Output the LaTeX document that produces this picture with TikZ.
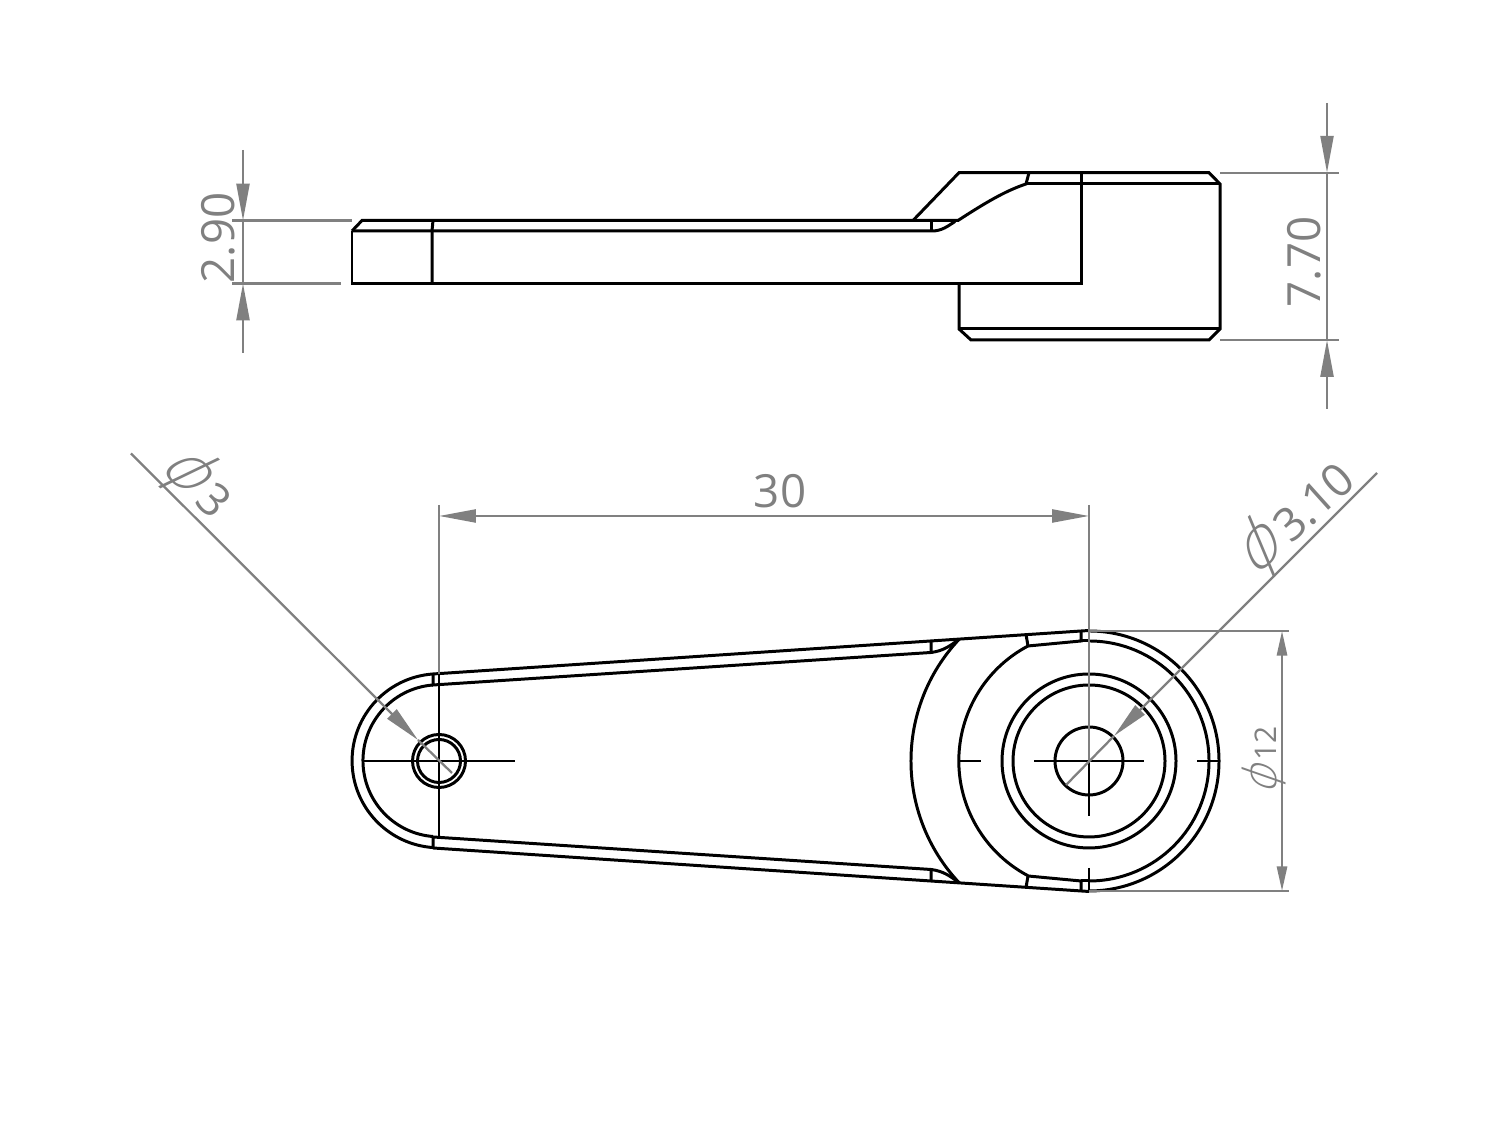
\documentclass[tikz,border=0pt]{standalone}
\usepackage{fontspec}
\usepackage{tikz}
\usetikzlibrary{arrows.meta}
\setmainfont{Open Sans}
\newfontfamily\phifont[FakeSlant=0.35]{DejaVu Sans ExtraLight}
\definecolor{dim_gray}{RGB}{128,128,128}
\newcommand{\phisign}[1]{{\phifont\fontsize{#1}{#1}\selectfont ϕ}}

\begin{document}
\begin{tikzpicture}[x=0.1mm,y=0.1mm,line join=miter]
    \tikzstyle{part}=[black, line width=0.85pt]
    \tikzstyle{axis}=[black, line width=0.62pt]
    \tikzstyle{dim}=[dim_gray, line width=0.65pt]
    \tikzstyle{bigtip}=[-{Triangle[length=10.5pt,width=3.7pt]}]
    \tikzstyle{smalltip}=[{Triangle[length=7pt,width=2.9pt]}-{Triangle[length=7pt,width=2.9pt]}]
    \tikzstyle{dimtext}=[text=dim_gray, inner sep=0pt, font=\fontsize{13}{13}\selectfont]

    \useasboundingbox (0,0) rectangle (1500,1146);

    % side view
    \draw[part] (352,915) -- (362,925.5) -- (958,925.5) .. controls (985,943) and (1005,955) .. (1026,962) -- (1029,973.3);
    \draw[part] (352,915) -- (352,862.5) -- (1081,862.5) -- (1081,973.3);
    \draw[part] (913,925.5) -- (959,973.3) -- (1209,973.3) -- (1220,962) -- (1220,817) -- (1209,806) -- (971,806) -- (959,817) -- (959,862.5);
    \draw[part] (959,817) -- (1220,817);
    \draw[part] (1026,962) -- (1220,962);
    \draw[part] (352,915) -- (932,915) .. controls (942,915) and (948,920) .. (955,924.5);
    \draw[part] (432,862.5) -- (432,915) -- (433,925.5);
    \draw[part] (931,915) -- (931,925.5);

    % front view
    \coordinate (lug) at (439,385);
    \coordinate (hub) at (1089,385);
    \begin{scope}[shift={(0,385)}]
    \foreach \sgn in {1,-1} {
      \draw[part] (433,\sgn*87) -- (1089,\sgn*130.5);
      \draw[part] (433,\sgn*87) -- (433,\sgn*76) -- (931,\sgn*108.5) -- (931,\sgn*120);
      \draw[part] (931,\sgn*108.5) .. controls (943,\sgn*110) and (950,\sgn*115) .. (958,\sgn*121);
      \draw[part] (1081,\sgn*130) -- (1081,\sgn*120) -- (1028,\sgn*115) -- (1026,\sgn*126.5);
      \draw[part] (1081,\sgn*120) -- (1089,\sgn*120);
    }
    \draw[part] (433,87) arc[start angle=94,end angle=266,radius=87];
    \draw[part] (433,76) arc[start angle=94.5,end angle=265.5,radius=76];
    \draw[part] (959,121.6) arc[start angle=136.9,end angle=223.1,radius=178];
    \draw[part] (1028,115) arc[start angle=117.9,end angle=242.1,radius=130];
    \draw[part] (1089,130) arc[start angle=90,end angle=-90,radius=130];
    \draw[part] (1089,120) arc[start angle=90,end angle=-90,radius=120];
    \end{scope}
    \draw[part] (hub) circle (87);
    \draw[part] (hub) circle (76);
    \draw[part] (hub) circle (34);
    \draw[part] (lug) circle (26.5);
    \draw[part] (lug) circle (21.5);

    % centre lines
    \draw[axis] (362,385) -- (515,385);
    \draw[axis] (439,472) -- (439,309);
    \draw[axis] (959,385) -- (981,385);
    \draw[axis] (1034,385) -- (1144,385);
    \draw[axis] (1197,385) -- (1219,385);
    \draw[axis] (1089,395) -- (1089,330);
    \draw[axis] (1089,278) -- (1089,255);

    % dimensions, side view
    \draw[dim] (232,925.5) -- (352,925.5);
    \draw[dim] (232,862.5) -- (341,862.5);
    \draw[dim,bigtip] (243,996) -- (243,925.5);
    \draw[dim,bigtip] (243,793) -- (243,862.5);
    \draw[dim] (243,925.5) -- (243,862.5);
    \node[dimtext, rotate=90] (d_arm) at (218,908) {2.90};

    \draw[dim] (1220,973.3) -- (1339,973.3);
    \draw[dim] (1220,806) -- (1339,806);
    \draw[dim,bigtip] (1327,1043) -- (1327,973.3);
    \draw[dim,bigtip] (1327,737) -- (1327,806);
    \draw[dim] (1327,973.3) -- (1327,806);
    \node[dimtext, rotate=90] (d_hub) at (1304,884) {7.70};

    % dimensions, front view
    \draw[dim] (439,641) -- (439,472);
    \draw[dim] (1089,641) -- (hub);
    \draw[dim,{Triangle[length=10.5pt,width=3.7pt]}-{Triangle[length=10.5pt,width=3.7pt]}] (439,630) -- (1089,630);
    \node[dimtext] (d_dist) at (780,655) {30};

    \draw[dim] (1089,515) -- (1289,515);
    \draw[dim] (1089,255) -- (1289,255);
    \draw[dim,smalltip] (1282,515) -- (1282,255);
    \node[dimtext, rotate=90, font=\fontsize{8.5}{8.5}\selectfont] (d_outer) at (1264,385) {\phisign{13}\,12};

    \coordinate (holetip) at (418,406);
    \draw[dim,bigtip] (131,692.5) -- (holetip);
    \draw[dim] (holetip) -- (452,373);
    \node[dimtext, rotate=-45] (d_lug) at (197,665) {\phisign{18.5}\,3};

    \coordinate (bore) at (1114,410);
    \draw[dim,bigtip] (1377,673) -- (bore);
    \draw[dim] (bore) -- (1066,361);
    \node[dimtext, rotate=42] (d_bore) at (1294,628) {\phisign{18.5}\,3.10};
\end{tikzpicture}
\end{document}
